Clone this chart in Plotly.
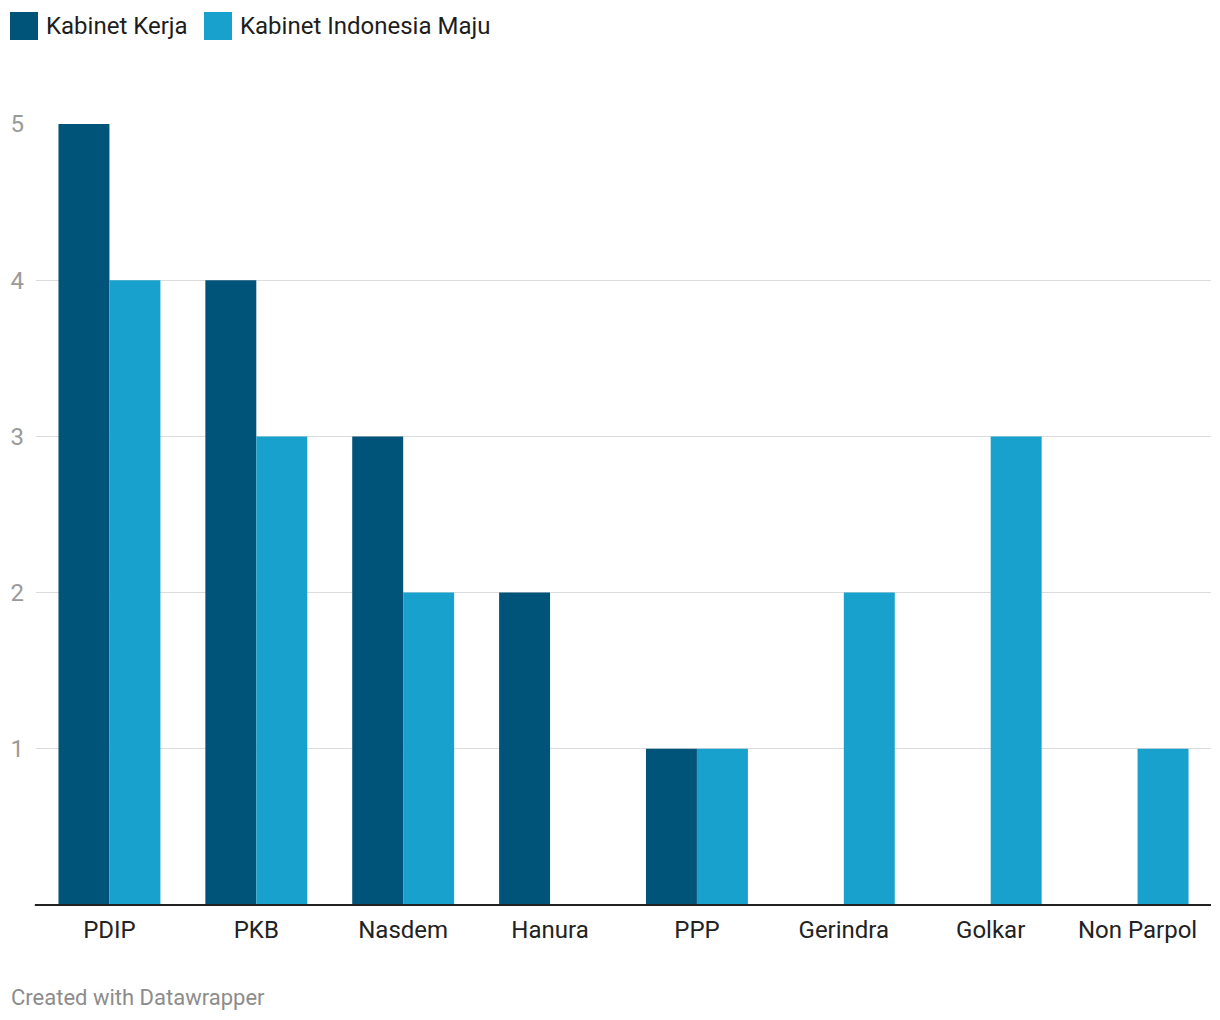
import plotly.graph_objects as go

categories = ["PDIP", "PKB", "Nasdem", "Hanura", "PPP", "Gerindra", "Golkar", "Non Parpol"]
kabinet_kerja = [5, 4, 3, 2, 1, 0, 0, 0]
kabinet_maju = [4, 3, 2, 0, 1, 2, 3, 1]
series_names = ["Kabinet Kerja", "Kabinet Indonesia Maju"]
colors = ["#00547a", "#19a1cd"]
y_ticks = [1, 2, 3, 4, 5]

OFF = 8  # page body margin
W, H = 1204, 1004
L, R, T, B = 36 - OFF, 1, 124 - OFF, 1004 - (905 - OFF)
pw, ph = W - L - R, H - T - B

def px(x):
    return (x - OFF - L) / pw

def py(y):
    return (H - B - (y - OFF)) / ph

font = "Roboto, Arial, sans-serif"

fig = go.Figure()
for name, vals, c in zip(series_names, [kabinet_kerja, kabinet_maju], colors):
    fig.add_trace(go.Bar(x=categories, y=vals, name=name, marker=dict(color=c, line=dict(width=0)),
                         showlegend=False, hoverinfo="x+y+name"))

shapes = []
annotations = []
leg_x = [10, 204]
for i, (name, c) in enumerate(zip(series_names, colors)):
    x0 = leg_x[i]
    shapes.append(dict(type="rect", xref="paper", yref="paper", x0=px(x0), x1=px(x0 + 28),
                       y0=py(40), y1=py(12), fillcolor=c, line=dict(width=0)))
    annotations.append(dict(text=name, xref="paper", yref="paper", x=px(x0 + 34), y=py(26),
                            xanchor="left", yanchor="middle", showarrow=False,
                            font=dict(family=font, size=24, color="#1d1d1d")))
annotations.append(dict(text="Created with Datawrapper", xref="paper", yref="paper", x=px(9), y=py(997),
                        xanchor="left", yanchor="middle", showarrow=False,
                        font=dict(family=font, size=22, color="#8c8c8c")))
# baseline
shapes.append(dict(type="line", xref="paper", yref="paper", x0=-0.001, x1=1, y0=0, y1=0,
                   line=dict(color="#222222", width=2)))

fig.update_layout(
    width=W, height=H,
    margin=dict(l=L, r=R, t=T, b=B),
    paper_bgcolor="white", plot_bgcolor="white",
    barmode="group", bargap=0.306, bargroupgap=0,
    shapes=shapes, annotations=annotations,
    font=dict(family=font),
    xaxis=dict(showgrid=False, showline=False, zeroline=False, ticks="", ticklabelstandoff=8,
               tickfont=dict(family=font, size=24, color="#222222")),
    yaxis=dict(range=[0, 5], tickvals=y_ticks, showgrid=True, gridcolor="#dcdcdc", gridwidth=1,
               zeroline=False, showline=False, ticks="", ticklabelstandoff=11,
               tickfont=dict(family=font, size=24, color="#9a9a9a")),
)

fig.write_html("out.html")
